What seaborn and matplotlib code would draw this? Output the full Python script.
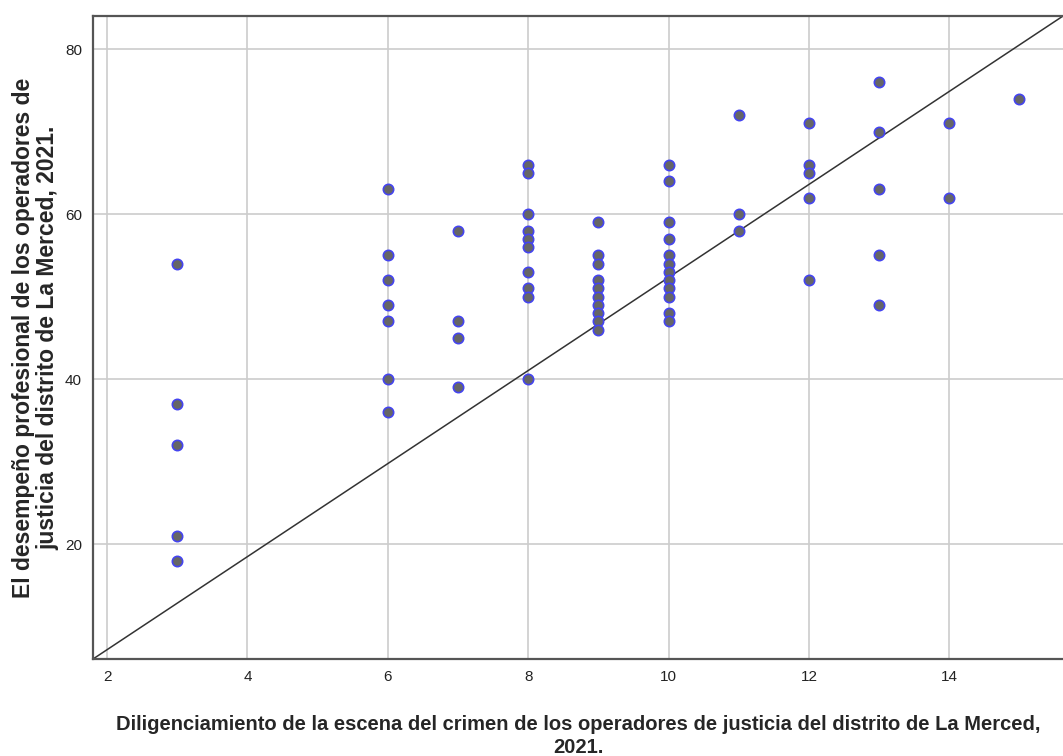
import matplotlib
matplotlib.use("Agg")
import matplotlib.pyplot as plt
import seaborn as sns
import pandas as pd

# valores (x = diligenciamiento, y = desempeño)
x_3 = [3, 3, 3, 3, 3]
y_3 = [54, 37, 32, 21, 18]
x_6 = [6, 6, 6, 6, 6, 6, 6]
y_6 = [63, 55, 52, 49, 47, 40, 36]
x_7 = [7, 7, 7, 7]
y_7 = [58, 47, 45, 39]
x_8 = [8] * 10
y_8 = [66, 65, 60, 58, 57, 56, 53, 51, 50, 40]
x_9 = [9] * 10
y_9 = [59, 55, 54, 52, 51, 50, 49, 48, 47, 46]
x_10 = [10] * 12
y_10 = [66, 64, 59, 57, 55, 54, 53, 52, 51, 50, 48, 47]
x_11 = [11, 11, 11]
y_11 = [72, 60, 58]
x_12 = [12, 12, 12, 12, 12]
y_12 = [71, 66, 65, 62, 52]
x_13 = [13, 13, 13, 13, 13]
y_13 = [76, 70, 63, 55, 49]
x_14 = [14, 14]
y_14 = [71, 62]
x_15 = [15]
y_15 = [74]

xs = x_3 + x_6 + x_7 + x_8 + x_9 + x_10 + x_11 + x_12 + x_13 + x_14 + x_15
ys = y_3 + y_6 + y_7 + y_8 + y_9 + y_10 + y_11 + y_12 + y_13 + y_14 + y_15

x_ticks = [2, 4, 6, 8, 10, 12, 14]
y_ticks = [20, 40, 60, 80]

x_label = "Diligenciamiento de la escena del crimen de los operadores de justicia del distrito de La Merced,\n2021."
y_label = "El desempeño profesional de los operadores de\njusticia del distrito de La Merced, 2021."

df = pd.DataFrame({"x": xs, "y": ys})

sns.set_style("white")
plt.rcParams['font.family'] = ['Liberation Sans', 'DejaVu Sans']

fig = plt.figure(figsize=(10.63, 7.56), dpi=100)
ax = fig.add_axes([0.0875, 0.1283, 0.9125, 0.8505])

sns.scatterplot(data=df, x="x", y="y", ax=ax, s=55, color="#666666",
                edgecolor="#4444f0", linewidth=1.2, zorder=3)

ax.set_xlim(1.8, 15.62)
ax.set_ylim(6.06, 84.0)

# linea de referencia de esquina a esquina
ax.plot([0, 1], [0, 1], transform=ax.transAxes, color="#333333", lw=1.1, zorder=2)

ax.set_xticks(x_ticks)
ax.set_yticks(y_ticks)
ax.grid(True, color="#cccccc", lw=1.2, zorder=0)
ax.set_axisbelow(True)
ax.tick_params(axis="both", labelsize=11, colors="#222222", length=4, width=0.8,
               color="#bbbbbb", pad=4)
for lab in ax.get_xticklabels() + ax.get_yticklabels():
    lab.set_color("#222222")

for side in ["left", "bottom", "top"]:
    ax.spines[side].set_visible(True)
    ax.spines[side].set_color("#555555")
    ax.spines[side].set_linewidth(1.6)
ax.spines["right"].set_visible(False)

ax.set_xlabel(x_label, fontsize=14.5, fontweight="bold", labelpad=22, linespacing=1.3)
ax.set_ylabel(y_label, fontsize=16.5, fontweight="bold", labelpad=4, linespacing=1.05)

fig.savefig("out.png", dpi=100)
